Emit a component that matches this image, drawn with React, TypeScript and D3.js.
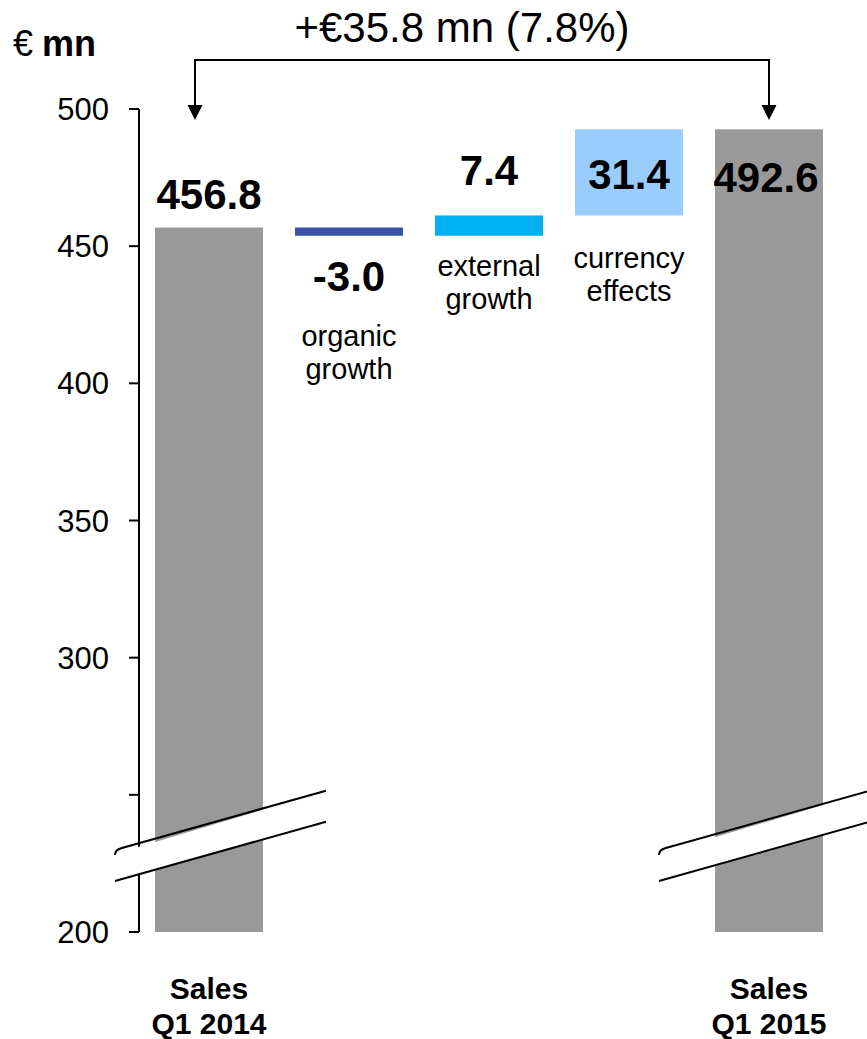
import React from "react";
import * as d3 from "d3";

// Sales bridge, € mn
const categories = ["Sales Q1 2014", "organic growth", "external growth", "currency effects", "Sales Q1 2015"];
const categoryLines = [["Sales", "Q1 2014"], ["organic", "growth"], ["external", "growth"], ["currency", "effects"], ["Sales", "Q1 2015"]];
const kinds = ["total", "delta", "delta", "delta", "total"];
const values = [456.8, -3.0, 7.4, 31.4, 492.6];
const valueLabels = ["456.8", "-3.0", "7.4", "31.4", "492.6"];
const colors = ["#999999", "#3953A4", "#00B0F0", "#99CCFF", "#999999"];
const yTicks = [200, 250, 300, 350, 400, 450, 500];
const yTickLabels = ["200", "", "300", "350", "400", "450", "500"];
const changeLabel = "+€35.8 mn (7.8%)";
const unitLabel = ["€", "mn"];

const W = 867;
const H = 1039;
const FONT = "'Liberation Sans', Arial, sans-serif";

export default function App() {
  const x = d3
    .scaleBand<string>()
    .domain(categories)
    .range([139, 839])
    .paddingInner(0.229)
    .paddingOuter(0.1145);
  const y = d3.scaleLinear().domain([200, 500]).range([932, 109]);

  // waterfall segments
  let running = 0;
  const bars = categories.map((c, i) => {
    let lo: number, hi: number;
    if (kinds[i] === "total") {
      lo = 200;
      hi = values[i];
      running = values[i];
    } else {
      const start = running;
      const end = running + values[i];
      lo = Math.min(start, end);
      hi = Math.max(start, end);
      running = end;
    }
    return { c, i, lo, hi };
  });

  const bw = x.bandwidth();
  const cx = (c: string) => (x(c) as number) + bw / 2;

  // value label baselines relative to each segment
  const valueY = (b: { i: number; lo: number; hi: number }) => {
    if (b.i === 0) return y(b.hi) - 19;
    if (b.i === 1) return y(b.lo) + 55;
    if (b.i === 2) return y(b.hi) - 30;
    if (b.i === 3) return y(b.hi) + 60;
    return y(b.hi) + 63;
  };
  const labelY = (b: { i: number; lo: number; hi: number }) => {
    if (b.i === 1) return y(b.lo) + 110;
    if (b.i === 2) return y(b.lo) + 40;
    if (b.i === 3) return y(b.hi) + 139;
    return 999;
  };

  // axis break bands: two parallel slanted edges with white between
  const slope = -0.281;
  const gap = 31;
  const breakTop = y(229.9); // upper edge height at the band's left end
  const band = (x0: number, x1: number) => {
    const yu = (xx: number) => breakTop + slope * (xx - x0);
    return { x0, x1, u0: yu(x0), u1: yu(x1), l0: yu(x0) + gap, l1: yu(x1) + gap };
  };
  const breaks = [band(115, 326), band(659, 880)];

  const arrowLeftX = 195;
  const arrowRightX = cx(categories[4]);
  const bracketY = 60;
  const arrowTipY = 120;

  return (
    <svg
      width={W}
      height={H}
      viewBox={`0 0 ${W} ${H}`}
      style={{ position: "absolute", left: 0, top: 0, background: "#fff" }}
      fontFamily={FONT}
    >
      {/* bars */}
      {bars.map((b) => (
        <rect
          key={b.c}
          x={x(b.c)}
          y={y(b.hi)}
          width={bw}
          height={y(b.lo) - y(b.hi)}
          fill={colors[b.i]}
        />
      ))}

      {/* axis */}
      <line x1={139} x2={139} y1={y(500)} y2={y(200)} stroke="#000" strokeWidth={2} />
      {yTicks.map((t, i) => (
        <g key={t}>
          <line x1={129} x2={139} y1={y(t)} y2={y(t)} stroke="#000" strokeWidth={2} />
          {yTickLabels[i] && (
            <text x={109} y={y(t)} dy="0.36em" textAnchor="end" fontSize={31} fill="#000">
              {yTickLabels[i]}
            </text>
          )}
        </g>
      ))}

      {/* axis breaks */}
      {breaks.map((bk, i) => (
        <g key={i}>
          <polygon
            points={`${bk.x0},${bk.u0 + 4} ${bk.x1},${bk.u1} ${bk.x1},${bk.l1} ${bk.x0},${bk.l0}`}
            fill="#fff"
          />
          <path
            d={`M${bk.x0},${bk.u0 + 5} Q${bk.x0},${bk.u0} ${bk.x0 + 6},${bk.u0 - 1.7} L${bk.x1},${bk.u1}`}
            fill="none"
            stroke="#000"
            strokeWidth={2}
          />
          <line x1={bk.x0} y1={bk.l0} x2={bk.x1} y2={bk.l1} stroke="#000" strokeWidth={2} />
        </g>
      ))}

      {/* value labels */}
      {bars.map((b) => (
        <text
          key={"v" + b.c}
          x={cx(b.c) + (b.i === 4 ? -3 : 0)}
          y={valueY(b)}
          textAnchor="middle"
          fontSize={42}
          fontWeight="bold"
          fill="#000"
        >
          {valueLabels[b.i]}
        </text>
      ))}

      {/* category labels */}
      {bars.map((b) => {
        const total = kinds[b.i] === "total";
        const y0 = total ? 999 : labelY(b);
        return (
          <text
            key={"c" + b.c}
            x={cx(b.c)}
            y={y0}
            textAnchor="middle"
            fontSize={total ? 30 : 29}
            fontWeight={total ? "bold" : "normal"}
            fill="#000"
          >
            {categoryLines[b.i].map((ln, k) => (
              <tspan key={k} x={cx(b.c)} dy={k === 0 ? 0 : total ? 35 : 33}>
                {ln}
              </tspan>
            ))}
          </text>
        );
      })}

      {/* change bracket */}
      <path
        d={`M${arrowLeftX},${arrowTipY - 14} V${bracketY} H${arrowRightX} V${arrowTipY - 14}`}
        fill="none"
        stroke="#000"
        strokeWidth={2}
      />
      {[arrowLeftX, arrowRightX].map((ax) => (
        <path key={ax} d={`M${ax - 7.5},${arrowTipY - 15} L${ax + 7.5},${arrowTipY - 15} L${ax},${arrowTipY} Z`} fill="#000" />
      ))}
      <text x={462} y={42} textAnchor="middle" fontSize={42} fill="#000">
        {changeLabel}
      </text>

      {/* unit */}
      <text x={13} y={56} fontSize={36} fill="#000">
        {unitLabel[0]}
        <tspan dx={9} fontWeight="bold">
          {unitLabel[1]}
        </tspan>
      </text>
    </svg>
  );
}
